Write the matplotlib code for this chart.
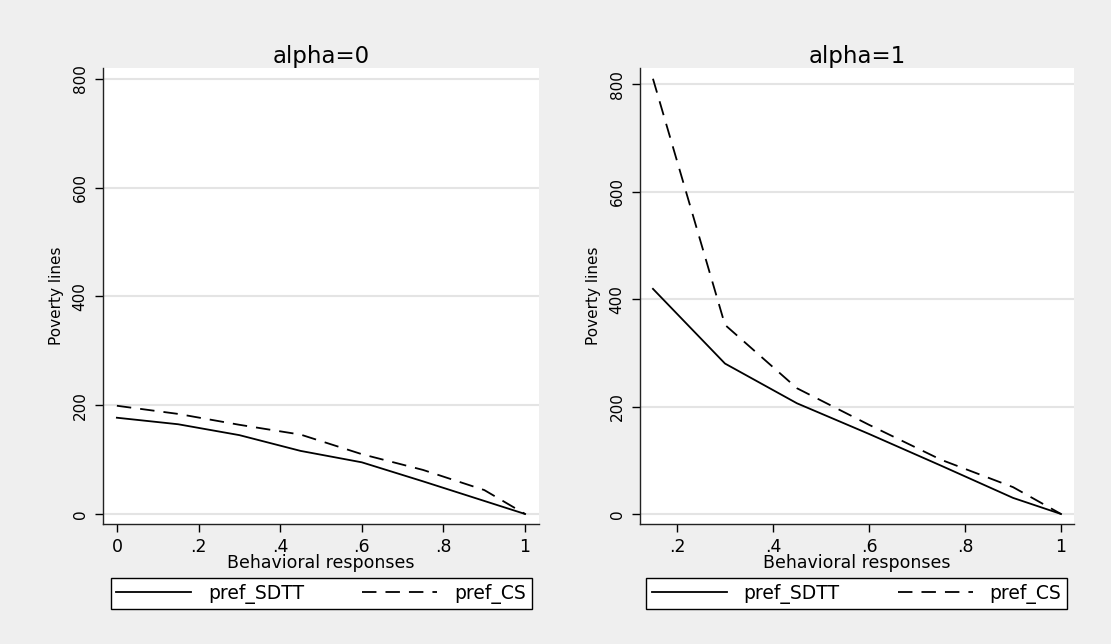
import matplotlib
matplotlib.use('Agg')
import matplotlib.pyplot as plt

plt.rcParams['font.family'] = ['DejaVu Sans']

# data
x_a0 = [0, .15, .3, .45, .6, .75, .9, 1]
sdtt_a0 = [177, 165, 145, 116, 95, 60, 24, 0]
cs_a0 = [199, 184, 164, 146, 110, 81, 44, 0]

x_a1 = [.15, .3, .45, .6, .75, .9, 1]
sdtt_a1 = [419, 280, 206, 149, 90, 30, 0]
cs_a1 = [810, 352, 234, 166, 101, 50, 0]

titles = ['alpha=0', 'alpha=1']
series_names = ['pref_SDTT', 'pref_CS']
yticks = [0, 200, 400, 600, 800]
xticks_a0 = [0, .2, .4, .6, .8, 1]
xlabels_a0 = ['0', '.2', '.4', '.6', '.8', '1']
xticks_a1 = [.2, .4, .6, .8, 1]
xlabels_a1 = ['.2', '.4', '.6', '.8', '1']

W, H = 1111, 644
bg = '#efefef'
fig = plt.figure(figsize=(W / 100, H / 100), dpi=100, facecolor=bg)


def px_box(x0, x1, ytop, ybot):
    return [x0 / W, 1 - ybot / H, (x1 - x0) / W, (ybot - ytop) / H]


panels = [
    dict(box=px_box(103, 539, 68, 524), x=x_a0, s=sdtt_a0, c=cs_a0,
         xlim=(-0.034, 1.034), ylim=(-18.4, 820), xt=xticks_a0, xl=xlabels_a0,
         leg=(110, 532)),
    dict(box=px_box(640, 1074, 68, 524), x=x_a1, s=sdtt_a1, c=cs_a1,
         xlim=(0.123, 1.027), ylim=(-18.6, 830), xt=xticks_a1, xl=xlabels_a1,
         leg=(647, 1066)),
]

for i, p in enumerate(panels):
    ax = fig.add_axes(p['box'])
    ax.set_facecolor('white')
    l1, = ax.plot(p['x'], p['s'], color='black', lw=1.3, label=series_names[0])
    l2, = ax.plot(p['x'], p['c'], color='black', lw=1.3, linestyle=(0, (8, 5)),
                  label=series_names[1])
    ax.set_xlim(*p['xlim'])
    ax.set_ylim(*p['ylim'])
    ax.set_yticks(yticks)
    ax.set_yticklabels([str(v) for v in yticks], rotation=90, va='center')
    ax.set_xticks(p['xt'])
    ax.set_xticklabels(p['xl'])
    ax.yaxis.grid(True, color='#e4e4e4', lw=1.5)
    ax.set_axisbelow(True)
    for s in ['top', 'right']:
        ax.spines[s].set_visible(False)
    for s in ['left', 'bottom']:
        ax.spines[s].set_color('#222222')
        ax.spines[s].set_linewidth(1.0)
    ax.tick_params(axis='y', direction='out', length=6, width=1, labelsize=11, pad=5)
    ax.tick_params(axis='x', direction='out', length=6, width=1, labelsize=12.5, pad=4)
    ax.set_xlabel('Behavioral responses', fontsize=12.5, labelpad=-1)
    ax.set_ylabel('Poverty lines', fontsize=11, labelpad=6)
    ax.set_title(titles[i], fontsize=16.5, pad=1)

    x0, x1 = p['leg']
    leg = fig.legend(handles=[l1, l2], loc='center', ncol=2,
                     bbox_to_anchor=((x0 + x1) / 2 / W, 1 - 593.5 / H),
                     bbox_transform=fig.transFigure, borderaxespad=0,
                     fontsize=13.5, handlelength=4.0, handletextpad=0.9,
                     columnspacing=3.1, fancybox=False, edgecolor='black',
                     facecolor='white', framealpha=1, borderpad=0.3)
    leg.get_frame().set_linewidth(1.0)

plt.savefig('out.png', dpi=100, facecolor=bg)
